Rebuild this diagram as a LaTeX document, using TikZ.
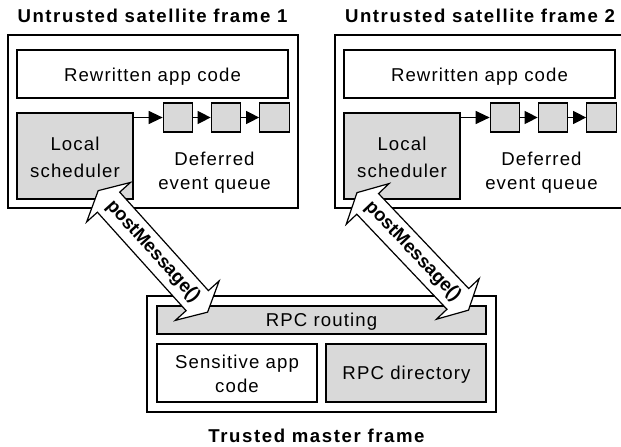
\documentclass[tikz,border=0pt]{standalone}
\usepackage{fontspec}
\setmainfont{Liberation Sans}
\newfontfamily\trackfont{Liberation Sans}[LetterSpace=6]
\newfontfamily\trackbold{Liberation Sans}[LetterSpace=8.5]
\usetikzlibrary{arrows.meta}
\begin{document}
\begin{tikzpicture}[x=1pt,y=-1pt,
  frame/.style={draw=black, line width=1.2pt, fill=white, rectangle, inner sep=0pt},
  graybox/.style={frame, fill=black!15},
  lab/.style={font=\trackfont\fontsize{18.6}{24}\selectfont, inner sep=0pt, align=center},
  ttl/.style={font=\trackbold\bfseries\fontsize{18.6}{24}\selectfont, inner sep=0pt},
  qarrow/.style={draw=black, line width=1.2pt, -{Triangle[length=14pt,width=13pt]}},
  bigarrow/.style={draw=black, line width=1.2pt, fill=white, line join=miter},
  arrlab/.style={font=\bfseries\fontsize{18.6}{24}\selectfont, inner sep=0pt}
]
\useasboundingbox (0,0) rectangle (621,447);
\clip (0,0) rectangle (621,447);

% ---------- satellite frame 1 ----------
\node[ttl, anchor=base] (t1) at (152.5,22.7) {Untrusted satellite frame 1};
\node[frame, minimum width=290pt, minimum height=173pt] (o1) at (153,121.5) {};
\node[frame, minimum width=271pt, minimum height=48pt] (rew1) at (152.5,74) {};
\node[lab, anchor=base] (rewt1) at (152.5,81.7) {Rewritten app code};
\node[graybox, minimum width=116pt, minimum height=86pt] (sch1) at (75,156) {};
\node[lab, font=\trackfont\fontsize{18.6}{26.6}\selectfont] (scht1) at (75,157.4) {Local\\scheduler};
\node[graybox, minimum width=29.5pt, minimum height=29pt] (q1a) at (178,117.5) {};
\node[graybox, minimum width=29.5pt, minimum height=29pt] (q1b) at (226,117.5) {};
\node[graybox, minimum width=29.5pt, minimum height=29pt] (q1c) at (274.5,117.5) {};
\node[lab, font=\trackfont\fontsize{18.6}{23.5}\selectfont] (dq1) at (214.5,172.8) {Deferred\\event queue};
\draw[qarrow] (sch1.east |- q1a.west) -- (q1a.west);
\draw[qarrow, -{Triangle[length=13pt,width=13pt]}] (q1a.east) -- (q1b.west);
\draw[qarrow, -{Triangle[length=13pt,width=13pt]}] (q1b.east) -- (q1c.west);

% ---------- satellite frame 2 ----------
\node[ttl, anchor=base] (t2) at (480,22.7) {Untrusted satellite frame 2};
\node[frame, minimum width=290pt, minimum height=173pt] (o2) at (480,121.5) {};
\node[frame, minimum width=271pt, minimum height=48pt] (rew2) at (479.5,74) {};
\node[lab, anchor=base] (rewt2) at (479.5,81.7) {Rewritten app code};
\node[graybox, minimum width=116pt, minimum height=86pt] (sch2) at (402,156) {};
\node[lab, font=\trackfont\fontsize{18.6}{26.6}\selectfont] (scht2) at (402,157.4) {Local\\scheduler};
\node[graybox, minimum width=29.5pt, minimum height=29pt] (q2a) at (505,117.5) {};
\node[graybox, minimum width=29.5pt, minimum height=29pt] (q2b) at (553,117.5) {};
\node[graybox, minimum width=29.5pt, minimum height=29pt] (q2c) at (601.5,117.5) {};
\node[lab, font=\trackfont\fontsize{18.6}{23.5}\selectfont] (dq2) at (541.5,172.8) {Deferred\\event queue};
\draw[qarrow] (sch2.east |- q2a.west) -- (q2a.west);
\draw[qarrow, -{Triangle[length=13pt,width=13pt]}] (q2a.east) -- (q2b.west);
\draw[qarrow, -{Triangle[length=13pt,width=13pt]}] (q2b.east) -- (q2c.west);

% ---------- master frame ----------
\node[frame, minimum width=349pt, minimum height=116pt] (om) at (321.5,354) {};
\node[graybox, minimum width=329pt, minimum height=28pt] (rpc) at (321.5,320) {};
\node[lab, anchor=base] (rpct) at (321.5,326.7) {RPC routing};
\node[frame, minimum width=160pt, minimum height=58pt] (sens) at (237,373) {};
\node[lab, font=\trackfont\fontsize{18.6}{24}\selectfont] (senst) at (237,373.6) {Sensitive app\\code};
\node[graybox, minimum width=160pt, minimum height=58pt] (dir) at (406,373) {};
\node[lab, anchor=base] (dirt) at (406.5,379.3) {RPC directory};
\node[ttl, anchor=base] (tm) at (316.5,442.5) {Trusted master frame};

% ---------- postMessage arrows ----------
\begin{scope}[shift={(152.9,251.4)}, rotate=-48]
  \path[bigarrow] (-81.75,0) -- (-66.25,-29.5) -- (-66.25,-15) -- (66.25,-15) -- (66.25,-29.5)
     -- (81.75,0) -- (66.25,29.5) -- (66.25,15) -- (-66.25,15) -- (-66.25,29.5) -- cycle;
  \node[arrlab, rotate=-48] (pm1) at (0,0) {postMessage()};
\end{scope}
\begin{scope}[shift={(412.75,251.4)}, rotate=-46.5]
  \path[bigarrow] (-81,0) -- (-65.5,-29.5) -- (-65.5,-15) -- (65.5,-15) -- (65.5,-29.5)
     -- (81,0) -- (65.5,29.5) -- (65.5,15) -- (-65.5,15) -- (-65.5,29.5) -- cycle;
  \node[arrlab, rotate=-46.5] (pm2) at (0,0) {postMessage()};
\end{scope}
\end{tikzpicture}
\end{document}
